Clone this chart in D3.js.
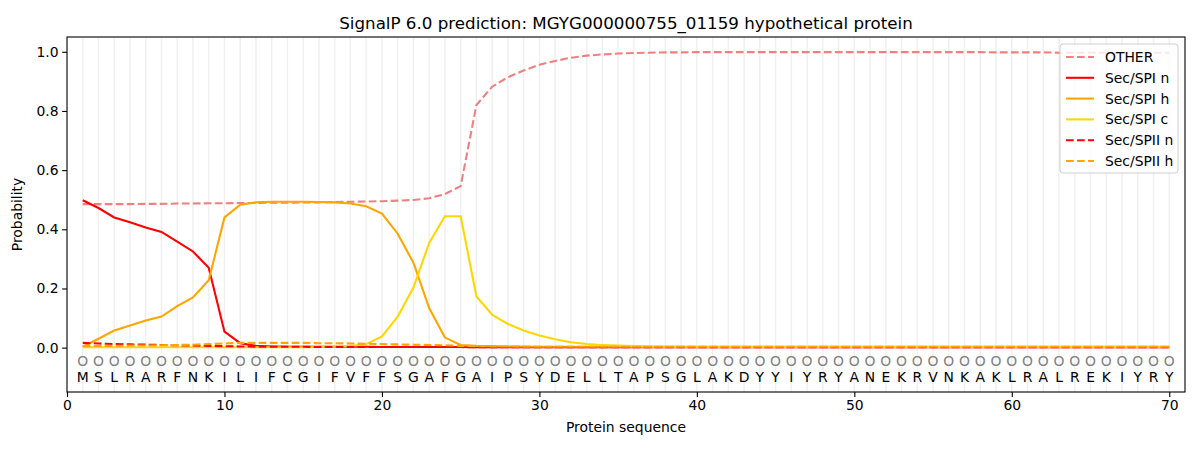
<!DOCTYPE html>
<html>
<head>
<meta charset="utf-8">
<script src="https://cdn.jsdelivr.net/npm/d3@7"></script>
<style>
  body { margin: 0; background: #fff; }
  text { font-family: "DejaVu Sans", sans-serif; }
</style>
</head>
<body>
<script>
//Width and height
var margin = {top: 37, right: 15, bottom: 58, left: 67};
var width = 1200 - margin.left - margin.right;
var height = 450 - margin.top - margin.bottom;

var sequence = "MSLRARFNKILIFCGIFVFFSGAFGAIPSYDELLTAPSGLAKDYYIYRYANEKRVNKAKLRALREKIYRY".split("");

var seriesNames = ["OTHER", "Sec/SPI n", "Sec/SPI h", "Sec/SPI c", "Sec/SPII n", "Sec/SPII h"];

var other = [
    0.485, 0.485, 0.485, 0.485, 0.486, 0.486, 0.487, 0.487, 0.488, 0.488,
    0.489, 0.489, 0.490, 0.490, 0.491, 0.491, 0.492, 0.493, 0.494, 0.495,
    0.497, 0.499, 0.505, 0.519, 0.546, 0.820, 0.882, 0.914, 0.937, 0.956,
    0.969, 0.980, 0.987, 0.991, 0.994, 0.996, 0.997, 0.998, 0.998, 0.999,
    0.999, 0.999, 0.999, 0.999, 0.999, 0.999, 0.999, 0.999, 0.999, 0.999,
    0.999, 0.999, 0.999, 0.999, 0.999, 0.999, 0.999, 0.999, 0.998, 0.998,
    0.998, 0.998, 0.997, 0.997, 0.997, 0.997, 0.997, 0.997, 0.997, 0.997
];
var spiN = [
    0.498, 0.472, 0.440, 0.424, 0.406, 0.391, 0.358, 0.325, 0.270, 0.054,
    0.015, 0.006, 0.004, 0.003, 0.003, 0.003, 0.003, 0.003, 0.003, 0.002,
    0.002, 0.002, 0.002, 0.002, 0.002, 0.001, 0.001, 0.001, 0.001, 0.001,
    0.001, 0.001, 0.001, 0.001, 0.001, 0.001, 0.001, 0.001, 0.001, 0.001,
    0.001, 0.001, 0.001, 0.001, 0.001, 0.001, 0.001, 0.001, 0.001, 0.001,
    0.001, 0.001, 0.001, 0.001, 0.001, 0.001, 0.001, 0.001, 0.001, 0.001,
    0.001, 0.001, 0.001, 0.001, 0.001, 0.001, 0.001, 0.001, 0.001, 0.001
];
var spiH = [
    0.003, 0.030, 0.058, 0.075, 0.092, 0.105, 0.140, 0.170, 0.228, 0.440,
    0.483, 0.491, 0.493, 0.493, 0.493, 0.492, 0.491, 0.487, 0.478, 0.453,
    0.385, 0.287, 0.134, 0.034, 0.009, 0.006, 0.005, 0.004, 0.004, 0.003,
    0.003, 0.003, 0.003, 0.003, 0.003, 0.003, 0.003, 0.003, 0.003, 0.003,
    0.003, 0.003, 0.003, 0.003, 0.003, 0.003, 0.003, 0.003, 0.003, 0.003,
    0.003, 0.003, 0.003, 0.003, 0.003, 0.003, 0.003, 0.003, 0.003, 0.003,
    0.003, 0.003, 0.003, 0.003, 0.003, 0.003, 0.003, 0.003, 0.003, 0.003
];
var spiC = [
    0.001, 0.001, 0.001, 0.001, 0.001, 0.001, 0.001, 0.001, 0.001, 0.001,
    0.001, 0.001, 0.001, 0.001, 0.001, 0.002, 0.003, 0.005, 0.012, 0.038,
    0.105, 0.203, 0.354, 0.444, 0.444, 0.173, 0.111, 0.080, 0.058, 0.041,
    0.028, 0.018, 0.012, 0.009, 0.007, 0.005, 0.004, 0.003, 0.003, 0.002,
    0.002, 0.002, 0.002, 0.002, 0.002, 0.002, 0.002, 0.002, 0.002, 0.002,
    0.002, 0.002, 0.002, 0.002, 0.002, 0.002, 0.002, 0.002, 0.002, 0.002,
    0.002, 0.002, 0.002, 0.002, 0.002, 0.002, 0.002, 0.002, 0.002, 0.002
];
var spiiN = [
    0.016, 0.014, 0.012, 0.011, 0.010, 0.009, 0.008, 0.007, 0.006, 0.005,
    0.004, 0.003, 0.003, 0.003, 0.003, 0.002, 0.002, 0.002, 0.002, 0.002,
    0.002, 0.002, 0.002, 0.002, 0.002, 0.001, 0.001, 0.001, 0.001, 0.001,
    0.001, 0.001, 0.001, 0.001, 0.001, 0.001, 0.001, 0.001, 0.001, 0.001,
    0.001, 0.001, 0.001, 0.001, 0.001, 0.001, 0.001, 0.001, 0.001, 0.001,
    0.001, 0.001, 0.001, 0.001, 0.001, 0.001, 0.001, 0.001, 0.001, 0.001,
    0.001, 0.001, 0.001, 0.001, 0.001, 0.001, 0.001, 0.001, 0.001, 0.001
];
var spiiH = [
    0.005, 0.006, 0.006, 0.007, 0.007, 0.008, 0.009, 0.010, 0.012, 0.014,
    0.016, 0.016, 0.016, 0.016, 0.016, 0.015, 0.015, 0.014, 0.013, 0.012,
    0.011, 0.010, 0.009, 0.008, 0.006, 0.005, 0.004, 0.004, 0.003, 0.003,
    0.003, 0.003, 0.003, 0.003, 0.003, 0.003, 0.003, 0.003, 0.003, 0.003,
    0.003, 0.003, 0.003, 0.003, 0.003, 0.003, 0.003, 0.003, 0.003, 0.003,
    0.003, 0.003, 0.003, 0.003, 0.003, 0.003, 0.003, 0.003, 0.003, 0.003,
    0.003, 0.003, 0.003, 0.003, 0.003, 0.003, 0.003, 0.003, 0.003, 0.003
];

var xTicks = [0, 10, 20, 30, 40, 50, 60, 70];
var yTicks = [0.0, 0.2, 0.4, 0.6, 0.8, 1.0];

var series = [
    {name: seriesNames[0], values: other, color: "#f08080", dash: true},
    {name: seriesNames[1], values: spiN,  color: "#ff0000", dash: false},
    {name: seriesNames[2], values: spiH,  color: "#ffa500", dash: false},
    {name: seriesNames[3], values: spiC,  color: "#ffd700", dash: false},
    {name: seriesNames[4], values: spiiN, color: "#ff0000", dash: true},
    {name: seriesNames[5], values: spiiH, color: "#ffa500", dash: true}
];

var xScale = d3.scaleLinear().domain([0, 71]).range([0, width]);
var yScale = d3.scaleLinear().domain([-0.15, 1.05]).range([height, 0]);

var svg = d3.select("body").append("svg")
    .attr("width", width + margin.left + margin.right)
    .attr("height", height + margin.top + margin.bottom)
    .append("g")
    .attr("transform", "translate(" + margin.left + "," + margin.top + ")");

// vertical grid at every residue
svg.append("g").selectAll("line")
    .data(sequence)
    .enter().append("line")
    .attr("x1", function(d, i) { return xScale(i + 1); })
    .attr("x2", function(d, i) { return xScale(i + 1); })
    .attr("y1", 0).attr("y2", height)
    .attr("stroke", "#f0f0f0")
    .attr("stroke-width", 1.5);

// residue markers ("O") and letters
svg.append("g").selectAll("text")
    .data(sequence)
    .enter().append("text")
    .attr("x", function(d, i) { return xScale(i + 1); })
    .attr("y", yScale(-0.044))
    .attr("dy", "0.36em")
    .attr("text-anchor", "middle")
    .attr("fill", "#808080")
    .style("font-size", "13.9px")
    .text("O");

svg.append("g").selectAll("text")
    .data(sequence)
    .enter().append("text")
    .attr("x", function(d, i) { return xScale(i + 1); })
    .attr("y", yScale(-0.098))
    .attr("dy", "0.36em")
    .attr("text-anchor", "middle")
    .style("font-size", "13.9px")
    .text(function(d) { return d; });

// lines
var line = d3.line()
    .x(function(d, i) { return xScale(i + 1); })
    .y(function(d) { return yScale(d); });

svg.append("g").selectAll("path")
    .data(series)
    .enter().append("path")
    .attr("d", function(d) { return line(d.values); })
    .attr("fill", "none")
    .attr("stroke", function(d) { return d.color; })
    .attr("stroke-width", 2.08)
    .attr("stroke-dasharray", function(d) { return d.dash ? "7.7,3.3" : null; });

// axes
var xAxis = d3.axisBottom(xScale).tickValues(xTicks).tickSize(4.9).tickPadding(3.5)
    .tickFormat(d3.format("d"));
var yAxis = d3.axisLeft(yScale).tickValues(yTicks).tickSize(4.9).tickPadding(3.5)
    .tickFormat(d3.format(".1f"));

var gx = svg.append("g").attr("transform", "translate(0," + height + ")").call(xAxis);
var gy = svg.append("g").call(yAxis);
[gx, gy].forEach(function(g) {
    g.select(".domain").remove();
    g.selectAll("text").style("font-size", "13.9px").attr("fill", "#000");
    g.selectAll("line").attr("stroke", "#000").attr("stroke-width", 1.1);
});

// frame
svg.append("rect")
    .attr("width", width).attr("height", height)
    .attr("fill", "none").attr("stroke", "#000").attr("stroke-width", 1.1);

// title and labels
svg.append("text")
    .attr("x", width / 2).attr("y", -8)
    .attr("text-anchor", "middle")
    .style("font-size", "16.7px")
    .text("SignalP 6.0 prediction: MGYG000000755_01159 hypothetical protein");

svg.append("text")
    .attr("x", width / 2).attr("y", height + 40)
    .attr("text-anchor", "middle")
    .style("font-size", "13.9px")
    .text("Protein sequence");

svg.append("text")
    .attr("transform", "translate(" + (-45) + "," + (height / 2) + ") rotate(-90)")
    .attr("text-anchor", "middle")
    .style("font-size", "13.9px")
    .text("Probability");

// legend
var legend = svg.append("g").attr("transform", "translate(" + (width - 125) + ",7)");
legend.append("rect")
    .attr("width", 118).attr("height", 129)
    .attr("rx", 3)
    .attr("fill", "#fff").attr("fill-opacity", 0.8)
    .attr("stroke", "#d0d0d0");

var items = legend.selectAll("g.item")
    .data(series)
    .enter().append("g")
    .attr("class", "item")
    .attr("transform", function(d, i) { return "translate(0," + (13 + i * 20.8) + ")"; });

items.append("line")
    .attr("x1", 6).attr("x2", 34)
    .attr("stroke", function(d) { return d.color; })
    .attr("stroke-width", 2.08)
    .attr("stroke-dasharray", function(d) { return d.dash ? "7.7,3.3" : null; });

items.append("text")
    .attr("x", 45).attr("dy", "0.36em")
    .style("font-size", "13.9px")
    .text(function(d) { return d.name; });
</script>
</body>
</html>
